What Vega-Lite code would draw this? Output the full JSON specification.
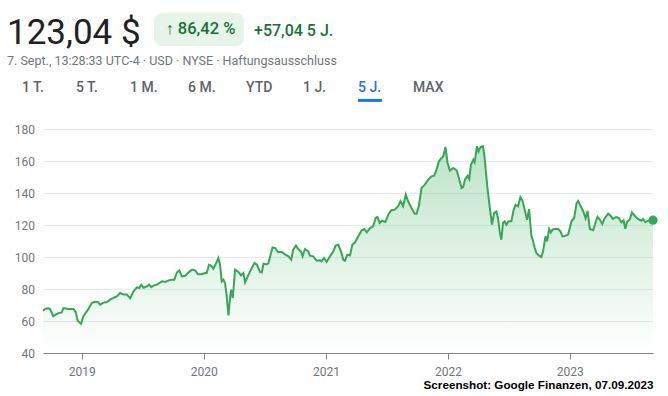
{
  "$schema": "https://vega.github.io/schema/vega-lite/v6.json",
  "width": 610,
  "height": 224,
  "autosize": {"type": "none"},
  "padding": {"left": 43, "top": 129, "right": 15, "bottom": 43},
  "background": "white",
  "config": {
    "view": {"stroke": null},
    "font": "Roboto",
    "legend": {"padding": 0, "titlePadding": 0}
  },
  "title": {
    "text": "123,04 $",
    "subtitle": "7. Sept., 13:28:33 UTC-4 · USD · NYSE · Haftungsausschluss",
    "anchor": "start",
    "frame": "group",
    "dx": -36,
    "offset": -54.5,
    "font": "Roboto",
    "fontSize": 35,
    "fontWeight": "normal",
    "color": "#202124",
    "subtitleFont": "Roboto",
    "subtitleFontSize": 12.5,
    "subtitleColor": "#70757a",
    "subtitlePadding": 4.4
  },
  "datasets": {
    "prices": [
      {"date":"2018-09-07","close":66.5},{"date":"2018-09-13","close":67.5},{"date":"2018-09-23","close":68},{"date":"2018-09-28","close":67.5},
      {"date":"2018-10-08","close":63},{"date":"2018-10-18","close":64.4},{"date":"2018-10-28","close":65.2},{"date":"2018-11-02","close":65.4},
      {"date":"2018-11-07","close":68},{"date":"2018-11-22","close":67.5},{"date":"2018-12-07","close":67.5},{"date":"2018-12-14","close":65.6},
      {"date":"2018-12-20","close":60},{"date":"2018-12-30","close":58.3},{"date":"2019-01-06","close":63},{"date":"2019-01-16","close":66},
      {"date":"2019-01-21","close":67.5},{"date":"2019-01-31","close":71.2},{"date":"2019-02-10","close":72},{"date":"2019-02-18","close":71.9},
      {"date":"2019-02-25","close":70.2},{"date":"2019-03-07","close":71.5},{"date":"2019-03-17","close":71.9},{"date":"2019-03-27","close":73.3},
      {"date":"2019-04-06","close":74.4},{"date":"2019-04-16","close":75.4},{"date":"2019-04-26","close":77.5},{"date":"2019-05-06","close":76.5},
      {"date":"2019-05-16","close":76.5},{"date":"2019-05-26","close":74.2},{"date":"2019-06-05","close":78.5},{"date":"2019-06-15","close":81},
      {"date":"2019-06-22","close":80.6},{"date":"2019-06-28","close":82.7},{"date":"2019-07-05","close":80.8},{"date":"2019-07-15","close":81.7},
      {"date":"2019-07-22","close":82.7},{"date":"2019-07-28","close":81.2},{"date":"2019-08-04","close":82.1},{"date":"2019-08-14","close":82.7},
      {"date":"2019-08-29","close":84.8},{"date":"2019-09-08","close":84.4},{"date":"2019-09-18","close":85.4},{"date":"2019-09-28","close":85.8},
      {"date":"2019-10-05","close":85.8},{"date":"2019-10-13","close":90.4},{"date":"2019-10-20","close":91.5},{"date":"2019-10-28","close":87.9},
      {"date":"2019-11-07","close":88.3},{"date":"2019-11-17","close":90.4},{"date":"2019-11-27","close":92.1},{"date":"2019-12-07","close":91.5},
      {"date":"2019-12-15","close":89.2},{"date":"2019-12-26","close":89.2},{"date":"2020-01-05","close":90},{"date":"2020-01-10","close":90},
      {"date":"2020-01-17","close":95.2},{"date":"2020-01-25","close":94.2},{"date":"2020-01-30","close":92.7},{"date":"2020-02-06","close":95.6},
      {"date":"2020-02-14","close":99.4},{"date":"2020-02-19","close":95.2},{"date":"2020-02-24","close":84.8},{"date":"2020-02-29","close":85.8},
      {"date":"2020-03-05","close":83.7},{"date":"2020-03-10","close":75.4},{"date":"2020-03-15","close":63.5},{"date":"2020-03-20","close":74.4},
      {"date":"2020-03-23","close":79.6},{"date":"2020-03-28","close":74.4},{"date":"2020-04-04","close":92.1},{"date":"2020-04-14","close":90.6},
      {"date":"2020-04-22","close":88.5},{"date":"2020-04-29","close":90},{"date":"2020-05-04","close":84.2},{"date":"2020-05-12","close":87.9},
      {"date":"2020-05-19","close":91},{"date":"2020-06-01","close":96.3},{"date":"2020-06-08","close":95.2},{"date":"2020-06-18","close":90.6},
      {"date":"2020-06-23","close":90.4},{"date":"2020-06-28","close":95.8},{"date":"2020-07-08","close":95.4},{"date":"2020-07-13","close":96.3},
      {"date":"2020-07-18","close":100.4},{"date":"2020-07-25","close":106},{"date":"2020-08-02","close":105.6},{"date":"2020-08-10","close":103.1},
      {"date":"2020-08-22","close":103.1},{"date":"2020-09-01","close":101.5},{"date":"2020-09-11","close":100.4},{"date":"2020-09-19","close":98.3},
      {"date":"2020-09-25","close":104.6},{"date":"2020-10-03","close":107.1},{"date":"2020-10-10","close":105},{"date":"2020-10-18","close":103.5},
      {"date":"2020-10-23","close":100.4},{"date":"2020-10-30","close":105},{"date":"2020-11-09","close":103.5},{"date":"2020-11-14","close":100.8},
      {"date":"2020-11-24","close":100.4},{"date":"2020-12-04","close":97.7},{"date":"2020-12-14","close":97.9},{"date":"2020-12-19","close":97.3},
      {"date":"2020-12-26","close":99.4},{"date":"2021-01-03","close":96.9},{"date":"2021-01-13","close":100.4},{"date":"2021-01-23","close":103.5},
      {"date":"2021-01-30","close":107.1},{"date":"2021-02-07","close":107.7},{"date":"2021-02-15","close":103.5},{"date":"2021-02-22","close":98.3},
      {"date":"2021-02-27","close":97.7},{"date":"2021-03-06","close":101.5},{"date":"2021-03-14","close":101},{"date":"2021-03-21","close":107.7},
      {"date":"2021-03-29","close":109.2},{"date":"2021-04-08","close":112.9},{"date":"2021-04-18","close":116.7},{"date":"2021-04-26","close":117.5},
      {"date":"2021-05-03","close":115.4},{"date":"2021-05-13","close":118.1},{"date":"2021-05-22","close":119.2},{"date":"2021-05-30","close":124.4},
      {"date":"2021-06-04","close":125},{"date":"2021-06-11","close":121.3},{"date":"2021-06-18","close":122.7},{"date":"2021-06-28","close":121.9},
      {"date":"2021-07-08","close":127.1},{"date":"2021-07-16","close":129.2},{"date":"2021-07-26","close":129.6},{"date":"2021-08-05","close":131.7},
      {"date":"2021-08-12","close":134.8},{"date":"2021-08-20","close":131.7},{"date":"2021-08-28","close":139},{"date":"2021-09-04","close":134.8},
      {"date":"2021-09-14","close":130.6},{"date":"2021-09-24","close":127.1},{"date":"2021-09-29","close":127.1},{"date":"2021-10-06","close":131.7},
      {"date":"2021-10-14","close":143.1},{"date":"2021-10-24","close":145.2},{"date":"2021-11-03","close":148.3},{"date":"2021-11-13","close":150.4},
      {"date":"2021-11-21","close":150.8},{"date":"2021-11-28","close":154.6},{"date":"2021-12-05","close":159.8},{"date":"2021-12-13","close":161.9},
      {"date":"2021-12-18","close":162.9},{"date":"2021-12-25","close":168.8},{"date":"2021-12-31","close":158.8},{"date":"2022-01-07","close":154},
      {"date":"2022-01-17","close":155.6},{"date":"2022-01-27","close":154.2},{"date":"2022-02-03","close":149.4},{"date":"2022-02-11","close":143.1},
      {"date":"2022-02-16","close":143.8},{"date":"2022-02-21","close":148.3},{"date":"2022-03-01","close":150.8},{"date":"2022-03-06","close":148.8},
      {"date":"2022-03-11","close":157.7},{"date":"2022-03-18","close":160.8},{"date":"2022-03-22","close":159.2},{"date":"2022-03-29","close":169.2},
      {"date":"2022-04-03","close":166},{"date":"2022-04-09","close":168.8},{"date":"2022-04-16","close":169.2},{"date":"2022-04-21","close":161.9},
      {"date":"2022-04-29","close":144.2},{"date":"2022-05-06","close":131.7},{"date":"2022-05-13","close":120.2},{"date":"2022-05-19","close":127.5},
      {"date":"2022-05-26","close":128.5},{"date":"2022-05-31","close":124.4},{"date":"2022-06-05","close":116},{"date":"2022-06-10","close":110.8},
      {"date":"2022-06-15","close":121.3},{"date":"2022-06-20","close":122.3},{"date":"2022-06-25","close":120.2},{"date":"2022-07-02","close":122.3},
      {"date":"2022-07-10","close":122.3},{"date":"2022-07-17","close":129.6},{"date":"2022-07-23","close":132.7},{"date":"2022-07-30","close":131.7},
      {"date":"2022-08-06","close":137.5},{"date":"2022-08-12","close":135.4},{"date":"2022-08-19","close":129.6},{"date":"2022-08-26","close":123.3},
      {"date":"2022-09-01","close":130},{"date":"2022-09-08","close":113.3},{"date":"2022-09-13","close":109.8},{"date":"2022-09-18","close":105.6},
      {"date":"2022-09-23","close":102.5},{"date":"2022-09-30","close":101},{"date":"2022-10-08","close":100},{"date":"2022-10-13","close":103.5},
      {"date":"2022-10-20","close":112.9},{"date":"2022-10-25","close":109.8},{"date":"2022-10-31","close":117.5},{"date":"2022-11-05","close":115.4},
      {"date":"2022-11-10","close":117.1},{"date":"2022-11-17","close":117.5},{"date":"2022-11-27","close":117.5},{"date":"2022-12-04","close":116},
      {"date":"2022-12-10","close":112.9},{"date":"2022-12-19","close":113.3},{"date":"2022-12-27","close":114},{"date":"2023-01-06","close":122.3},
      {"date":"2023-01-14","close":124.4},{"date":"2023-01-21","close":133.5},{"date":"2023-01-26","close":135},{"date":"2023-02-03","close":131.5},
      {"date":"2023-02-10","close":128.8},{"date":"2023-02-17","close":124.2},{"date":"2023-02-23","close":128.8},{"date":"2023-03-02","close":117.5},
      {"date":"2023-03-12","close":116.7},{"date":"2023-03-20","close":122.3},{"date":"2023-03-25","close":125},{"date":"2023-04-01","close":123.3},
      {"date":"2023-04-08","close":120.6},{"date":"2023-04-16","close":124.4},{"date":"2023-04-26","close":127.1},{"date":"2023-05-03","close":125.8},
      {"date":"2023-05-10","close":123.8},{"date":"2023-05-20","close":125},{"date":"2023-05-28","close":124.4},{"date":"2023-06-04","close":121.7},
      {"date":"2023-06-11","close":122.9},{"date":"2023-06-16","close":117.7},{"date":"2023-06-22","close":122.3},{"date":"2023-06-29","close":123.3},
      {"date":"2023-07-06","close":127.9},{"date":"2023-07-14","close":125.8},{"date":"2023-07-24","close":123.8},{"date":"2023-08-03","close":122.7},
      {"date":"2023-08-08","close":123.8},{"date":"2023-08-15","close":121.7},{"date":"2023-08-23","close":122.7},{"date":"2023-09-07","close":123.04}
    ],
    "tabs": [
      {"tab":"1 T."},{"tab":"5 T."},{"tab":"1 M."},{"tab":"6 M."},{"tab":"YTD"},{"tab":"1 J."},{"tab":"5 J."},{"tab":"MAX"}
    ],
    "badge": [{"badge": "↑ 86,42 %"}],
    "change": [{"change": "+57,04 5 J."}]
  },
  "layer": [
    {
      "data": {"name": "prices"},
      "encoding": {
        "x": {
          "field": "date",
          "type": "temporal",
          "scale": {"domain": [{"year": 2018, "month": 9, "date": 7, "utc": true}, {"year": 2023, "month": 9, "date": 7, "utc": true}]},
          "axis": {
            "title": "Screenshot: Google Finanzen, 07.09.2023",
            "titleAnchor": "end",
            "titleFont": "Liberation Sans",
            "titleFontSize": 11.7,
            "titleFontWeight": "bold",
            "titleColor": "#000000",
            "titlePadding": 2,
            "format": "%Y",
            "tickCount": {"interval": "year", "step": 1},
            "grid": false,
            "domainColor": "#80868b",
            "tickColor": "#80868b",
            "tickSize": 6,
            "labelPadding": 7,
            "labelFont": "Roboto",
            "labelFontSize": 12,
            "labelColor": "#70757a"
          }
        },
        "y": {
          "field": "close",
          "type": "quantitative",
          "scale": {"domain": [40, 180], "zero": false, "nice": false},
          "axis": {
            "title": null,
            "values": [40, 60, 80, 100, 120, 140, 160, 180],
            "grid": true,
            "gridColor": "#e8eaed",
            "domain": false,
            "ticks": false,
            "labelPadding": 8.5,
            "labelFont": "Roboto",
            "labelFontSize": 12,
            "labelColor": "#70757a"
          }
        }
      },
      "layer": [
        {
          "mark": {
            "type": "area",
            "color": {
              "gradient": "linear",
              "x1": 0, "y1": 0, "x2": 0, "y2": 1,
              "stops": [
                {"offset": 0, "color": "rgba(52,168,83,0.32)"},
                {"offset": 1, "color": "rgba(52,168,83,0)"}
              ]
            }
          },
          "encoding": {"y2": {"datum": 40}}
        },
        {
          "mark": {"type": "line", "color": "#34a853", "strokeWidth": 2}
        },
        {
          "transform": [{"filter": "datum.close === 123.04"}],
          "mark": {"type": "circle", "color": "#34a853", "size": 85, "opacity": 1}
        }
      ]
    },
    {
      "data": {"name": "tabs"},
      "mark": {"type": "point", "filled": true, "opacity": 0},
      "encoding": {
        "color": {
          "field": "tab",
          "type": "nominal",
          "sort": null,
          "scale": {"range": ["#1a73e8"]},
          "legend": {
            "orient": "none",
            "legendX": -21,
            "legendY": -53,
            "direction": "horizontal",
            "title": null,
            "symbolType": "M-1,0.9H1V1.15H-1Z",
            "symbolSize": 575,
            "symbolStrokeWidth": 0.01,
            "labelOffset": -24,
            "columnPadding": 30,
            "labelFont": "Roboto",
            "labelFontSize": 14,
            "labelFontWeight": 500,
            "labelColor": "#5f6368",
            "encode": {
              "labels": {"update": {"fill": {"signal": "datum.value === '5 J.' ? '#1a73e8' : '#5f6368'"}}},
              "symbols": {"update": {"opacity": {"signal": "datum.value === '5 J.' ? 1 : 0"}, "fill": {"value": "#1a73e8"}}}
            }
          }
        }
      }
    },
    {
      "data": {"name": "badge"},
      "mark": {"type": "point", "filled": true, "opacity": 0},
      "encoding": {
        "shape": {
          "field": "badge",
          "type": "nominal",
          "legend": {
            "orient": "none",
            "legendX": 111,
            "legendY": -116,
            "title": null,
            "symbolSize": 0.01,
            "symbolStrokeWidth": 0.01,
            "labelOffset": -13,
            "padding": 8,
            "fillColor": "#e6f4ea",
            "cornerRadius": 8,
            "labelFont": "Roboto",
            "labelFontSize": 16.5,
            "labelFontWeight": 500,
            "labelColor": "#137333"
          }
        }
      }
    },
    {
      "data": {"name": "change"},
      "mark": {"type": "point", "filled": true, "opacity": 0},
      "encoding": {
        "stroke": {
          "field": "change",
          "type": "nominal",
          "scale": {"range": ["#137333"]},
          "legend": {
            "orient": "none",
            "legendX": 195,
            "legendY": -106,
            "title": null,
            "symbolSize": 0.01,
            "symbolStrokeWidth": 0.01,
            "labelOffset": 0.01,
            "labelFont": "Roboto",
            "labelFontSize": 16,
            "labelFontWeight": 500,
            "labelColor": "#137333"
          }
        }
      }
    }
  ]
}
